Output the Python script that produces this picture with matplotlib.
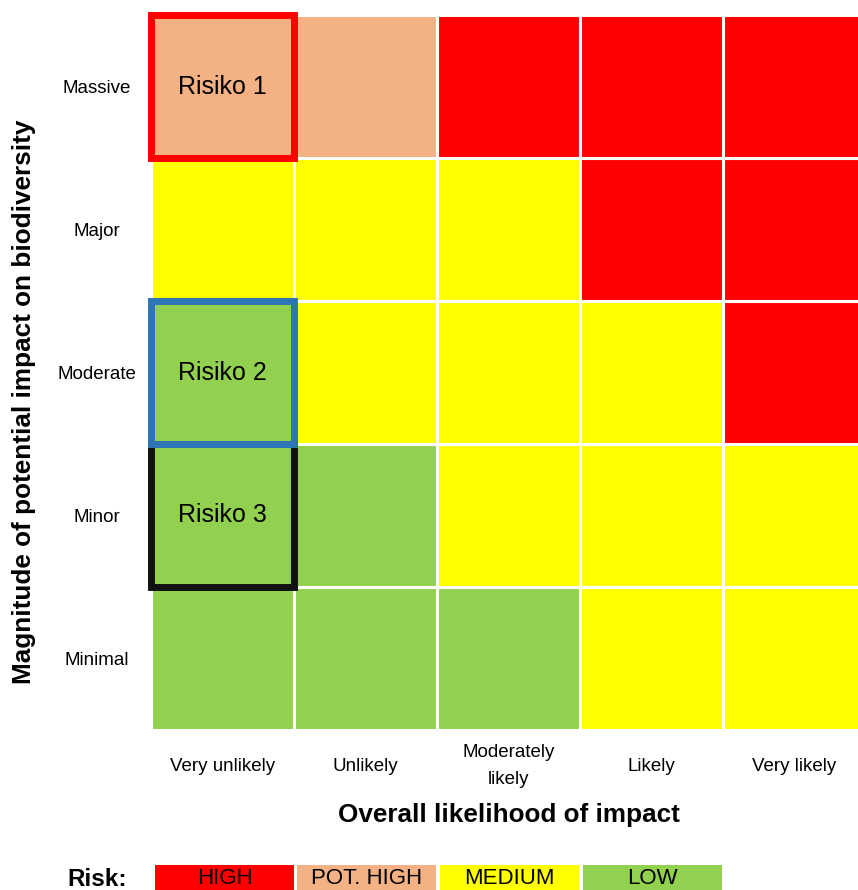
import matplotlib.pyplot as plt
from matplotlib.patches import Rectangle

# Data
likelihood = ["Very unlikely", "Unlikely", "Moderately\nlikely", "Likely", "Very likely"]
magnitude = ["Minimal", "Minor", "Moderate", "Major", "Massive"]  # bottom -> top

# risk level per cell, rows bottom (Minimal) -> top (Massive)
risk_grid = [
    ["L", "L", "L", "M", "M"],
    ["L", "L", "M", "M", "M"],
    ["L", "M", "M", "M", "H"],
    ["M", "M", "M", "H", "H"],
    ["P", "P", "H", "H", "H"],
]
risk_colors = {"H": "#FF0000", "P": "#F4B183", "M": "#FFFF00", "L": "#92D050"}

legend_labels = ["HIGH", "POT. HIGH", "MEDIUM", "LOW"]
legend_keys = ["H", "P", "M", "L"]

# marked risks: (label, column, row, border colour, z)
risks = [("Risiko 1", 0, 4, "#FF0000", 3),
         ("Risiko 2", 0, 2, "#2E75B6", 3.2),
         ("Risiko 3", 0, 1, "#111111", 3.1)]

fam = ["Liberation Sans", "DejaVu Sans"]

fig = plt.figure(figsize=(8.58, 8.90), dpi=100)
W, H = 858, 890
ax = fig.add_axes([151 / W, (H - 730) / H, 715 / W, 715 / H])

for r, row in enumerate(risk_grid):
    for c, key in enumerate(row):
        ax.add_patch(Rectangle((c, r), 1, 1, facecolor=risk_colors[key],
                               edgecolor="white", linewidth=2.2))

# highlighted risks
for label, c, r, col, z in risks:
    ax.add_patch(Rectangle((c, r), 1, 1, fill=False, edgecolor=col,
                           linewidth=5, zorder=z, clip_on=False))
    ax.text(c + 0.5, r + 0.5, label, ha="center", va="center", fontsize=18,
            family=fam, zorder=4)

ax.set_xlim(0, 5)
ax.set_ylim(0, 5)
for s in ax.spines.values():
    s.set_visible(False)

ax.set_xticks([i + 0.5 for i in range(5)])
ax.set_xticklabels(likelihood, va="center", fontsize=13.5, family=fam,
                   linespacing=1.75)
ax.set_yticks([i + 0.5 for i in range(5)])
ax.set_yticklabels(magnitude, ha="center", fontsize=13.5, family=fam)
ax.tick_params(axis="x", length=0, pad=26)
ax.tick_params(axis="y", length=0, pad=39)

fig.text(509 / W, 1 - 815 / H, "Overall likelihood of impact", ha="center",
         va="center", fontsize=18.8, fontweight="bold", family=fam)
fig.text(24 / W, 1 - 402 / H, "Magnitude of potential impact on biodiversity",
         ha="center", va="center", rotation=90, fontsize=18.8,
         fontweight="bold", family=fam)

# legend
fig.text(97 / W, 1 - 879 / H, "Risk:", ha="center", va="center",
         fontsize=17.5, fontweight="bold", family=fam)
box_left = [155, 297, 440, 583]
for x0, key, label in zip(box_left, legend_keys, legend_labels):
    fig.patches.append(Rectangle((x0 / W, -0.01), 139 / W, 0.01 + 25 / H,
                                 transform=fig.transFigure,
                                 facecolor=risk_colors[key], edgecolor="none"))
    fig.text((x0 + 69.5) / W, 1 - 879 / H, label, ha="center", va="center",
             fontsize=16, family=fam)

fig.savefig("out.png", dpi=100)
